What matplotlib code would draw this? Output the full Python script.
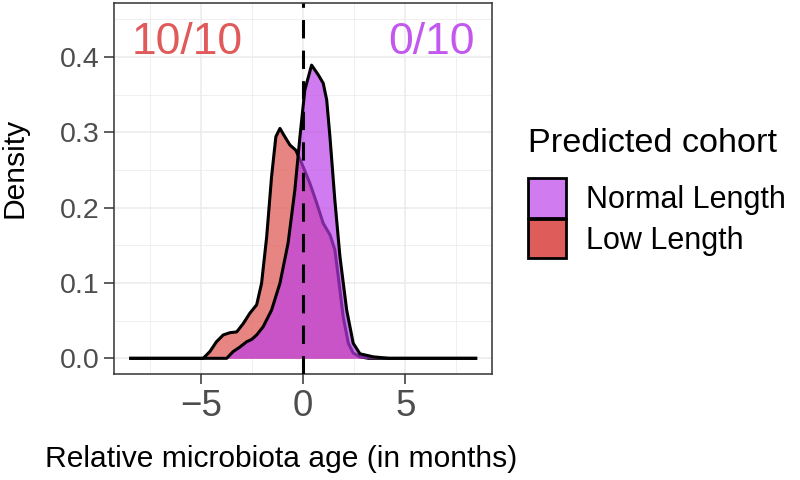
import matplotlib
matplotlib.use("Agg")
import matplotlib.pyplot as plt
from matplotlib.patches import Patch
from matplotlib.ticker import MultipleLocator

plt.rcParams['font.family'] = ['Liberation Sans', 'DejaVu Sans']

# density curves (x in months, y density)
low_x = [-8.45, -4.90, -4.57, -4.25, -3.92, -3.59, -3.26, -2.94, -2.61, -2.28,
         -2.04, -1.79, -1.55, -1.34, -1.14, -0.90, -0.65, -0.36, 0.0, 0.33,
         0.66, 0.98, 1.31, 1.55, 1.72, 1.96, 2.21, 2.45, 2.78, 3.2, 8.45]
low_y = [0.0, 0.0, 0.009, 0.022, 0.031, 0.034, 0.035, 0.046, 0.060, 0.071,
         0.0995, 0.161, 0.241, 0.294, 0.305, 0.294, 0.283, 0.276, 0.254, 0.232,
         0.206, 0.179, 0.164, 0.144, 0.108, 0.055, 0.020, 0.007, 0.002, 0.0, 0.0]

normal_x = [-8.45, -3.75, -3.43, -3.10, -2.77, -2.53, -2.28, -1.96, -1.55, -1.14,
            -0.74, -0.41, -0.16, 0.08, 0.41, 0.74, 0.98, 1.15, 1.31, 1.55,
            1.80, 2.13, 2.45, 2.78, 3.43, 4.2, 8.45]
normal_y = [0.0, 0.0, 0.009, 0.015, 0.022, 0.025, 0.031, 0.042, 0.064, 0.0995,
            0.153, 0.223, 0.294, 0.356, 0.389, 0.376, 0.365, 0.343, 0.294, 0.210,
            0.135, 0.064, 0.020, 0.006, 0.002, 0.0, 0.0]

labels = ['Normal Length', 'Low Length']
fills = {'Normal Length': '#BA3EE9', 'Low Length': '#E05C5A'}
keys = {'Normal Length': '#D07CF0', 'Low Length': '#DE5C5A'}
notes = [(-5.66, 0.419, '10/10', '#E05A5A'), (6.30, 0.419, '0/10', '#C258EE')]

fig = plt.figure(figsize=(8, 4.8), dpi=100)
ax = fig.add_axes([114 / 800, 106 / 480, 378 / 800, 371 / 480])

ax.fill_between(low_x, low_y, color=fills['Low Length'], alpha=0.75, lw=0, zorder=2)
ax.plot(low_x, low_y, color='black', lw=2.2, zorder=3)
ax.fill_between(normal_x, normal_y, color=fills['Normal Length'], alpha=0.68, lw=0, zorder=4)
ax.plot(normal_x, normal_y, color='black', lw=2.2, zorder=5)
ax.axvline(0, color='black', lw=2.2, ls=(0, (6, 4)), zorder=6)

for x, y, s, c in notes:
    ax.text(x, y, s, color=c, fontsize=32, ha='center', va='center', zorder=7)

ax.set_xlim(-9.27, 9.25)
ax.set_ylim(-0.0208, 0.4714)
ax.set_xticks([-5, 0, 5])
ax.set_yticks([0.0, 0.1, 0.2, 0.3, 0.4])
ax.set_yticklabels(['0.0', '0.1', '0.2', '0.3', '0.4'])
ax.xaxis.set_minor_locator(MultipleLocator(2.5))
ax.yaxis.set_minor_locator(MultipleLocator(0.05))
ax.grid(which='major', color='#EBEBEB', lw=1.1, zorder=0)
ax.grid(which='minor', color='#EBEBEB', lw=0.55, zorder=0)
ax.set_axisbelow(True)
ax.tick_params(which='minor', length=0)
ax.tick_params(axis='x', which='major', length=7.5, width=1.1, color='#333333',
               labelsize=26.5, labelcolor='#4D4D4D', pad=3)
ax.tick_params(axis='y', which='major', length=7.5, width=1.1, color='#333333',
               labelsize=20.5, labelcolor='#4D4D4D', pad=3)
for sp in ax.spines.values():
    sp.set_color('#333333')
    sp.set_linewidth(1.1)

ax.set_xlabel('Relative microbiota age (in months)', fontsize=21.6)
ax.xaxis.label.set_va('baseline')
ax.xaxis.set_label_coords(0.443, -0.251)
ax.set_ylabel('Density', fontsize=21.6)
ax.yaxis.label.set_va('baseline')
ax.yaxis.set_label_coords(-0.241, 0.555)

handles = [Patch(facecolor=keys[k], edgecolor='black', lw=2) for k in labels]
leg = ax.legend(handles, labels, title='Predicted cohort', loc='upper left',
                bbox_to_anchor=(528 / 800, 352 / 480), bbox_transform=fig.transFigure,
                frameon=False, fontsize=22, title_fontsize=24.7, alignment='left',
                handlelength=1.245, handleheight=1.59, handletextpad=0.65,
                labelspacing=0.05, borderpad=0, borderaxespad=0)
leg._legend_box.sep = 14  # gap between title and keys

fig.savefig('out.png', dpi=100)
